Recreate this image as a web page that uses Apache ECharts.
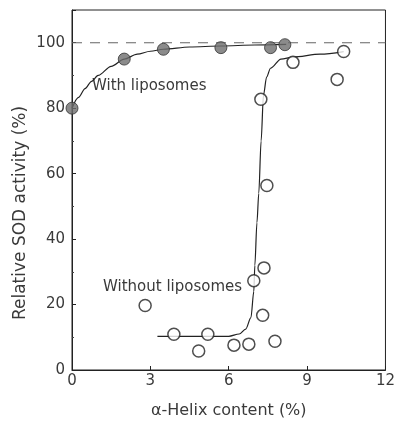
<!DOCTYPE html>
<html>
<head>
<meta charset="utf-8">
<script src="https://cdn.jsdelivr.net/npm/echarts@6/dist/echarts.min.js"></script>
<style>
  html, body { margin: 0; padding: 0; background: #fff; }
  #chart { width: 398px; height: 424px; }
</style>
</head>
<body>
<div id="chart"></div>
<script>
// measured points
const withLipo = [[0, 80], [2.0, 95], [3.5, 98], [5.7, 98.5], [7.6, 98.5], [8.15, 99.4]]
const withoutLipo = [
  [2.8, 19.7], [3.9, 10.9], [4.85, 5.8], [5.2, 10.9], [6.2, 7.6], [6.77, 7.9],
  [6.96, 27.3], [7.3, 16.7], [7.35, 31.2], [7.46, 56.4], [7.23, 82.7], [7.77, 8.8],
  [8.46, 94], [10.15, 88.8], [10.4, 97.3]
]
// fitted curves
const withCurve = [
  [0, 80], [0.25, 83.3], [0.5, 86], [0.75, 88.2], [1, 90], [1.5, 92.8], [2, 95],
  [2.5, 96.5], [3, 97.4], [3.5, 98], [4.5, 98.7], [5.7, 99], [7, 99.3], [8.2, 99.5]
]
const withoutCurve = [
  [3.27, 10.3], [4, 10.3], [5, 10.3], [6, 10.3], [6.4, 11], [6.65, 12.5], [6.85, 16],
  [6.96, 24], [7.0, 32], [7.08, 45], [7.15, 54], [7.24, 70], [7.33, 84], [7.45, 89.5],
  [7.6, 92.2], [8.0, 95], [8.46, 95.6], [9.5, 96.5], [10.4, 97.3]
]
const refLevel = 100
const xTicks = [0, 3, 6, 9, 12]

const chart = echarts.init(document.getElementById('chart'))
const font = '"DejaVu Sans", Verdana, sans-serif'
const textColor = '#3a3a3a'

chart.setOption({
  animation: false,
  grid: { left: 72, right: 12, top: 10, bottom: 52, show: true, borderColor: '#222', borderWidth: 1 },
  xAxis: {
    type: 'value', min: xTicks[0], max: xTicks[xTicks.length - 1], interval: 3,
    name: 'α-Helix content (%)', nameLocation: 'middle', nameGap: 33,
    nameTextStyle: { fontFamily: font, fontSize: 16, color: textColor },
    axisLine: { show: true, lineStyle: { color: '#222' } },
    axisTick: { inside: true, length: 4, lineStyle: { color: '#222' } },
    axisLabel: { fontFamily: font, fontSize: 15, color: textColor, margin: 4 },
    splitLine: { show: false }
  },
  yAxis: {
    type: 'value', min: 0, max: 110, interval: 20,
    axisLine: { show: true, lineStyle: { color: '#222' } },
    axisTick: { inside: true, length: 4, lineStyle: { color: '#222' } },
    minorTick: { show: true, splitNumber: 2, length: 2, lineStyle: { color: '#444' } },
    axisLabel: { fontFamily: font, fontSize: 15, color: textColor, margin: 7, showMaxLabel: false },
    splitLine: { show: false }
  },
  series: [
    {
      type: 'line', data: [[0, refLevel], [12, refLevel]], symbol: 'none',
      lineStyle: { color: '#666', width: 1.2, type: [10, 8] }, z: 1
    },
    {
      type: 'line', data: withCurve, symbol: 'none', smooth: 0.3, smoothMonotone: 'x',
      lineStyle: { color: '#222', width: 1.2 }, z: 2
    },
    {
      type: 'line', data: withoutCurve, symbol: 'none', smooth: 0.3, smoothMonotone: 'x',
      lineStyle: { color: '#222', width: 1.2 }, z: 2
    },
    {
      type: 'scatter', data: withLipo, symbolSize: 12,
      itemStyle: { color: '#6e6e6e', borderColor: '#333', borderWidth: 1 }, z: 4
    },
    {
      type: 'scatter', data: withoutLipo, symbolSize: 12,
      itemStyle: { color: '#fff', borderColor: '#222', borderWidth: 1.5 }, z: 4
    }
  ],
  graphic: [
    { type: 'text', left: 92, top: 79, style: { text: 'With liposomes', font: '15px ' + font, fill: textColor } },
    { type: 'text', left: 103, top: 280, style: { text: 'Without liposomes', font: '15px ' + font, fill: textColor } },
    {
      type: 'text', x: 21, y: 213, rotation: Math.PI / 2,
      style: { text: 'Relative SOD activity (%)', font: '17px ' + font, fill: textColor, align: 'center', verticalAlign: 'middle' }
    }
  ]
})
</script>
</body>
</html>
